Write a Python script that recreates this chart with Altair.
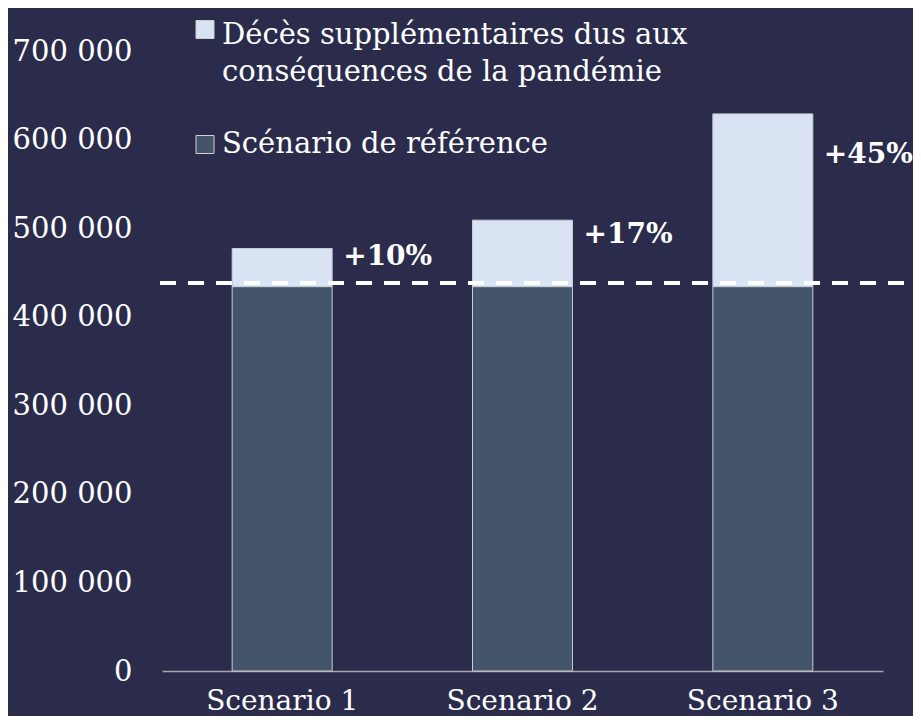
import altair as alt
import pandas as pd

# ---- data ----
scenarios = ["Scenario 1", "Scenario 2", "Scenario 3"]
reference_deaths = [434000, 434000, 434000]
extra_deaths = [43000, 75000, 195000]
pct_labels = ["+10%", "+17%", "+45%"]
pct_label_y = [458000, 483000, 573000]
reference_line = 438000

legend_extra = "Décès supplémentaires dus aux\nconséquences de la pandémie"
legend_ref = "Scénario de référence"

BG = "#2b2c4c"
DARK = "#44546a"
LIGHT = "#dae3f3"
FONT = "DejaVu Serif"

df = pd.DataFrame({
    "scenario": scenarios,
    "ref": reference_deaths,
    "extra": extra_deaths,
    "label": pct_labels,
    "label_y": pct_label_y,
})
df["total"] = df["ref"] + df["extra"]

xscale = alt.Scale(domain=scenarios, paddingInner=0.584, paddingOuter=0.292)
yscale = alt.Scale(domain=[0, 700000], nice=False, zero=True)

base = alt.Chart(df)

x_enc = alt.X(
    "scenario:N", scale=xscale, sort=scenarios, title=None,
    axis=alt.Axis(labelAngle=0, ticks=False, tickSize=0, domain=True,
                  domainColor="#a6a6a6", domainWidth=1.5,
                  labelColor="white", labelFont=FONT, labelFontSize=28,
                  labelBaseline="alphabetic", labelPadding=38, grid=False),
)

dark = base.mark_bar(color=DARK, stroke="#c8ccd4", strokeWidth=1).encode(
    x=x_enc,
    y=alt.Y("ref:Q", scale=yscale, title=None,
            axis=alt.Axis(values=list(range(0, 700001, 100000)),
                          ticks=False, tickSize=0, domain=False, grid=False,
                          labelColor="white", labelFont=FONT, labelFontSize=29,
                          labelPadding=30,
                          labelExpr="replace(format(datum.value, ','), regexp(',', 'g'), ' ')")),
    y2=alt.value(620),
)

light = base.mark_bar(color=LIGHT, stroke="#c8ccd4", strokeWidth=1).encode(
    x=alt.X("scenario:N", scale=xscale, sort=scenarios),
    y=alt.Y("ref:Q", scale=yscale),
    y2="total:Q",
)

labels = base.mark_text(align="left", baseline="alphabetic", dx=61,
                        fontWeight="bold", fontSize=28, font=FONT,
                        color="white").encode(
    x=alt.X("scenario:N", scale=xscale, sort=scenarios),
    y=alt.Y("label_y:Q", scale=yscale),
    text="label:N",
)

ref_df = pd.DataFrame({"v": [reference_line]})
ref_rule = alt.Chart(ref_df).mark_rule(color="white", strokeWidth=4,
                                       strokeDash=[16, 12]).encode(
    y=alt.Y("v:Q", scale=yscale),
    x=alt.value(-2),
    x2=alt.value(743),
)

# manual legend
sq_extra = alt.Chart(pd.DataFrame({"k": ["extra"]})).mark_square(
    size=324, color=LIGHT, opacity=1, stroke="#d0d0d0", strokeWidth=1
).encode(x=alt.value(43), y=alt.value(-21.5))
sq_ref = alt.Chart(pd.DataFrame({"k": ["ref"]})).mark_square(
    size=324, color=DARK, opacity=1, stroke="#d0d0d0", strokeWidth=1
).encode(x=alt.value(43), y=alt.value(93.5))
txt_extra = alt.Chart(pd.DataFrame({"t": [legend_extra]})).mark_text(
    align="left", baseline="alphabetic", lineBreak="\n", lineHeight=37,
    font=FONT, fontSize=29, color="white"
).encode(x=alt.value(60), y=alt.value(-7), text="t:N")
txt_ref = alt.Chart(pd.DataFrame({"t": [legend_ref]})).mark_text(
    align="left", baseline="alphabetic",
    font=FONT, fontSize=29, color="white"
).encode(x=alt.value(60), y=alt.value(102), text="t:N")

chart = alt.layer(dark, light, ref_rule, labels, sq_extra, sq_ref, txt_extra, txt_ref).properties(
    width=721, height=620,
    autosize=alt.AutoSizeParams(type="none"),
    padding={"left": 154, "top": 43, "right": 30, "bottom": 45},
    background=BG,
).configure(font=FONT).configure_view(strokeWidth=0, stroke="transparent")

chart.save("out.html", embed_options={"renderer": "svg", "actions": False})
